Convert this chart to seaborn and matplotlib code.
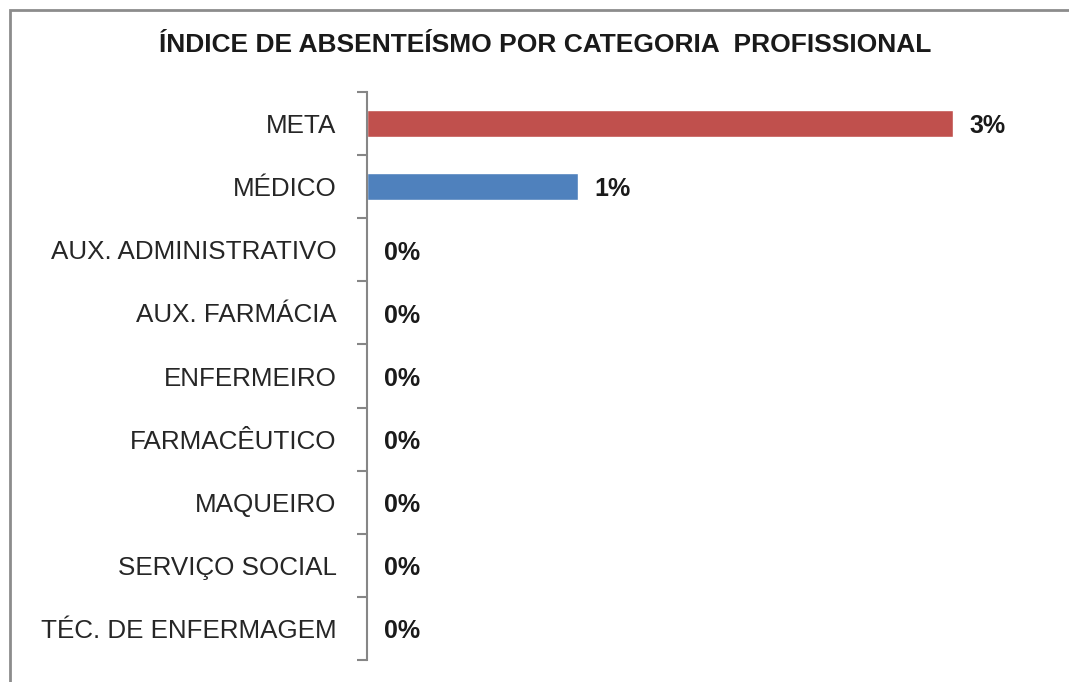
import matplotlib
matplotlib.use("Agg")
import matplotlib.pyplot as plt
import seaborn as sns
import pandas as pd
from matplotlib.patches import Rectangle

sns.set_theme(style="white")
plt.rcParams['font.family'] = ['Liberation Sans', 'DejaVu Sans']

# Data
categorias = ["META", "MÉDICO", "AUX. ADMINISTRATIVO", "AUX. FARMÁCIA", "ENFERMEIRO",
              "FARMACÊUTICO", "MAQUEIRO", "SERVIÇO SOCIAL", "TÉC. DE ENFERMAGEM"]
indices = [0.030, 0.0108, 0, 0, 0, 0, 0, 0, 0]
cores = ["#C0504D", "#4F81BD"] + ["#4F81BD"] * 7
titulo = "ÍNDICE DE ABSENTEÍSMO POR CATEGORIA  PROFISSIONAL"

df = pd.DataFrame({"categoria": categorias, "indice": indices})

fig = plt.figure(figsize=(10.69, 6.82), dpi=100)
W, H = 1069, 682
ax = fig.add_axes([367 / W, 1 - 660 / H, (1040 - 367) / W, (660 - 92) / H])

sns.barplot(data=df, x="indice", y="categoria", hue="categoria", palette=cores,
            order=categorias, orient="h", width=0.42, legend=False, ax=ax,
            saturation=1)

xmax = 0.03 * (1040 - 367) / (953 - 367)
ax.set_xlim(0, xmax)
ax.set_ylim(len(categorias) - 0.5, -0.5)

# Excel-style ticks between categories, labels at centres
ax.set_yticks([i - 0.5 for i in range(len(categorias) + 1)])
ax.set_yticklabels([])
ax.set_yticks(range(len(categorias)), minor=True)
ax.set_yticklabels(categorias, minor=True, fontsize=18.7, color="#262626")
ax.tick_params(axis="y", which="major", direction="out", length=7, width=1.5,
               color="#868686", left=True)
ax.tick_params(axis="y", which="minor", length=0, pad=22)
ax.set_xticks([])
ax.set_xlabel("")
ax.set_ylabel("")

for s in ["top", "right", "bottom"]:
    ax.spines[s].set_visible(False)
ax.spines["left"].set_color("#868686")
ax.spines["left"].set_linewidth(1.5)

for i, v in enumerate(indices):
    ax.annotate(f"{v:.0%}", (v, i), xytext=(12, -2), textcoords="offset points",
                va="center", ha="left", fontsize=18, fontweight="bold", color="#1a1a1a")

fig.text(545 / W, 1 - 45 / H, titulo, ha="center", va="center", fontsize=19,
         fontweight="bold", color="#1a1a1a")

# outer chart border
fig.patches.append(Rectangle((10 / W, -0.05), 1.2, 1 - 10 / H + 0.05,
                             transform=fig.transFigure, fill=False,
                             edgecolor="#8c8c8c", linewidth=2))

fig.savefig("out.png", dpi=100, facecolor="white")
